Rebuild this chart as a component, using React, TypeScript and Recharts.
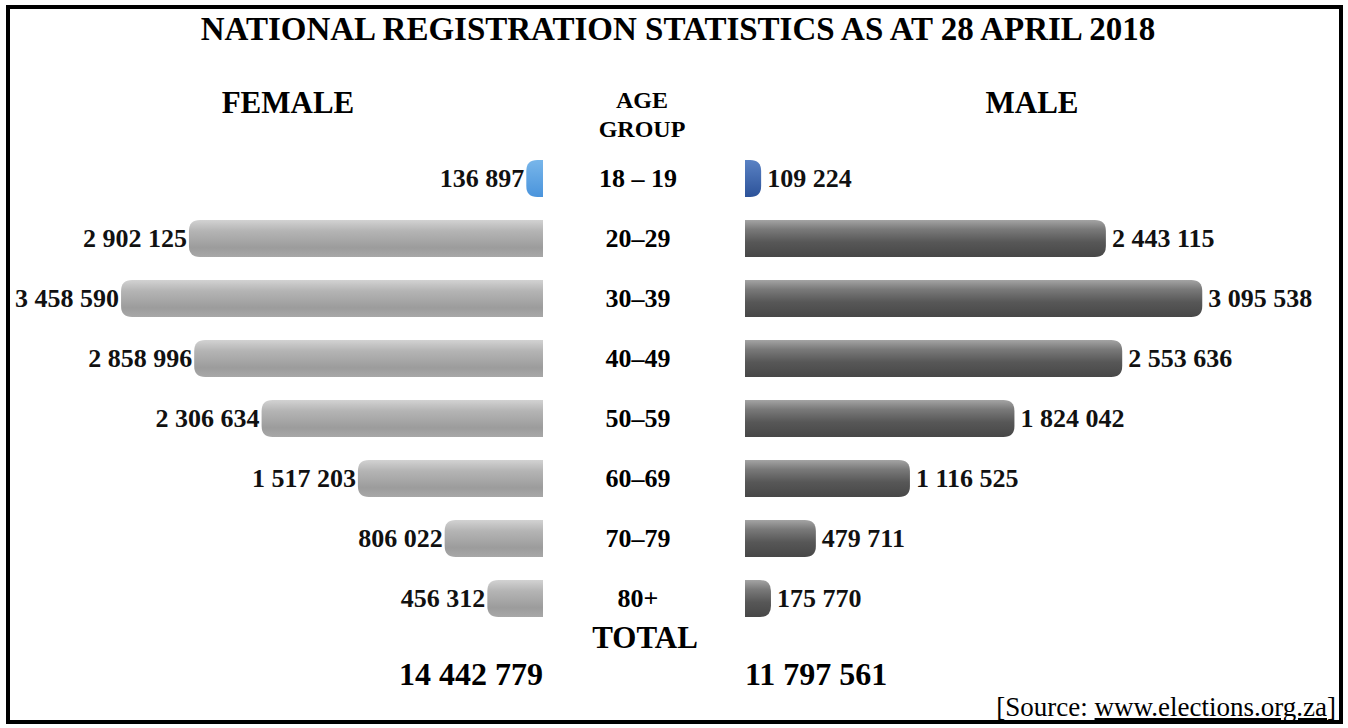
import React from 'react'
import { BarChart, Bar, XAxis, YAxis, LabelList } from 'recharts'

const AGE_GROUPS = ['18 – 19', '20–29', '30–39', '40–49', '50–59', '60–69', '70–79', '80+']
const FEMALE = [136897, 2902125, 3458590, 2858996, 2306634, 1517203, 806022, 456312]
const MALE = [109224, 2443115, 3095538, 2553636, 1824042, 1116525, 479711, 175770]
const TOTAL_FEMALE = '14 442 779'
const TOTAL_MALE = '11 797 561'

const rows = AGE_GROUPS.map((age, i) => ({ age, female: FEMALE[i], male: MALE[i] }))

const SERIF = '"Liberation Serif", "Times New Roman", serif'
const MAX = 3500000

const fmt = (v: number) => String(v).replace(/\B(?=(\d{3})+(?!\d))/g, ' ')

const roundedPath = (x: number, y: number, w: number, h: number, r: number, roundLeft: boolean) => {
  const rr = Math.min(r, w, h / 2)
  if (roundLeft) {
    return `M${x + w},${y} H${x + rr} Q${x},${y} ${x},${y + rr} V${y + h - rr} Q${x},${y + h} ${x + rr},${y + h} H${x + w} Z`
  }
  return `M${x},${y} H${x + w - rr} Q${x + w},${y} ${x + w},${y + rr} V${y + h - rr} Q${x + w},${y + h} ${x + w - rr},${y + h} H${x} Z`
}

const makeShape = (side: 'female' | 'male') => (props: any) => {
  const { x, y, width, height, index } = props
  const left = Math.min(x, x + width)
  const w = Math.abs(width)
  const fill = index === 0
    ? `url(#${side}Blue)`
    : `url(#${side}Gray)`
  return <path d={roundedPath(left, y, w, height, 11, side === 'female')} fill={fill} />
}

const makeLabel = (side: 'female' | 'male') => (props: any) => {
  const { x, y, width, height, value } = props
  const left = Math.min(x, x + width)
  const right = Math.max(x, x + width)
  return (
    <text
      x={side === 'female' ? left - 2 : right + 6}
      y={y + height / 2}
      textAnchor={side === 'female' ? 'end' : 'start'}
      dominantBaseline="central"
      fontFamily={SERIF}
      fontWeight="bold"
      fontSize={26}
      fill="#111"
    >
      {fmt(value)}
    </text>
  )
}

const AgeTick = (props: any) => (
  <text
    x={props.x + 95}
    y={props.y}
    textAnchor="middle"
    dominantBaseline="central"
    fontFamily={SERIF}
    fontWeight="bold"
    fontSize={26}
    fill="#000"
  >
    {props.payload.value}
  </text>
)

export default function App() {
  return (
    <div style={{ position: 'absolute', left: 0, top: 0, width: 1348, height: 728, background: '#fff', overflow: 'hidden' }}>
      <svg width={0} height={0} style={{ position: 'absolute' }}>
        <defs>
          <linearGradient id="femaleGray" x1="0" y1="0" x2="0" y2="1">
            <stop offset="0%" stopColor="#d2d2d2" />
            <stop offset="30%" stopColor="#b4b4b4" />
            <stop offset="75%" stopColor="#9c9c9c" />
            <stop offset="100%" stopColor="#a8a8a8" />
          </linearGradient>
          <linearGradient id="maleGray" x1="0" y1="0" x2="0" y2="1">
            <stop offset="0%" stopColor="#a4a4a4" />
            <stop offset="25%" stopColor="#7a7a7a" />
            <stop offset="60%" stopColor="#575757" />
            <stop offset="100%" stopColor="#474747" />
          </linearGradient>
          <linearGradient id="femaleBlue" x1="0" y1="0" x2="0" y2="1">
            <stop offset="0%" stopColor="#78b6ea" />
            <stop offset="100%" stopColor="#4a94dc" />
          </linearGradient>
          <linearGradient id="maleBlue" x1="0" y1="0" x2="0" y2="1">
            <stop offset="0%" stopColor="#5a82c4" />
            <stop offset="100%" stopColor="#2c5299" />
          </linearGradient>
        </defs>
      </svg>

      <div style={{ position: 'absolute', left: 0, top: 0 }}>
        <BarChart width={745} height={640} data={rows} layout="vertical"
          margin={{ top: 148, bottom: 12, left: 116, right: 0 }}>
          <XAxis type="number" domain={[0, MAX]} reversed hide />
          <YAxis type="category" dataKey="age" orientation="right" width={202}
            axisLine={false} tickLine={false} tickSize={0} tickMargin={0}
            interval={0} tick={AgeTick} />
          <Bar dataKey="female" barSize={37} isAnimationActive={false} shape={makeShape('female')}>
            <LabelList dataKey="female" content={makeLabel('female')} />
          </Bar>
        </BarChart>
      </div>

      <div style={{ position: 'absolute', left: 745, top: 0 }}>
        <BarChart width={603} height={640} data={rows} layout="vertical"
          margin={{ top: 148, bottom: 12, left: 0, right: 86 }}>
          <XAxis type="number" domain={[0, MAX]} hide />
          <YAxis type="category" dataKey="age" hide />
          <Bar dataKey="male" barSize={37} isAnimationActive={false} shape={makeShape('male')}>
            <LabelList dataKey="male" content={makeLabel('male')} />
          </Bar>
        </BarChart>
      </div>

      <svg width={1348} height={728} style={{ position: 'absolute', left: 0, top: 0, pointerEvents: 'none' }}
        fontFamily={SERIF}>
        <rect x={8} y={7} width={1333} height={715} fill="none" stroke="#000" strokeWidth={4} />
        <text x={678} y={40} textAnchor="middle" fontWeight="bold" fontSize={33}>
          NATIONAL REGISTRATION STATISTICS AS AT 28 APRIL 2018
        </text>
        <text x={288} y={113} textAnchor="middle" fontWeight="bold" fontSize={31}>FEMALE</text>
        <text x={1032} y={113} textAnchor="middle" fontWeight="bold" fontSize={31}>MALE</text>
        <text x={642} y={108} textAnchor="middle" fontWeight="bold" fontSize={24}>AGE</text>
        <text x={642} y={137} textAnchor="middle" fontWeight="bold" fontSize={24}>GROUP</text>
        <text x={645} y={648} textAnchor="middle" fontWeight="bold" fontSize={31}>TOTAL</text>
        <text x={543} y={685} textAnchor="end" fontWeight="bold" fontSize={32}>{TOTAL_FEMALE}</text>
        <text x={745} y={685} textAnchor="start" fontWeight="bold" fontSize={32}>{TOTAL_MALE}</text>
        <text x={1336} y={716} textAnchor="end" fontSize={27}>
          [Source: <tspan style={{ textDecoration: 'underline' }}>www.elections.org.za</tspan>]
        </text>
      </svg>
    </div>
  )
}
